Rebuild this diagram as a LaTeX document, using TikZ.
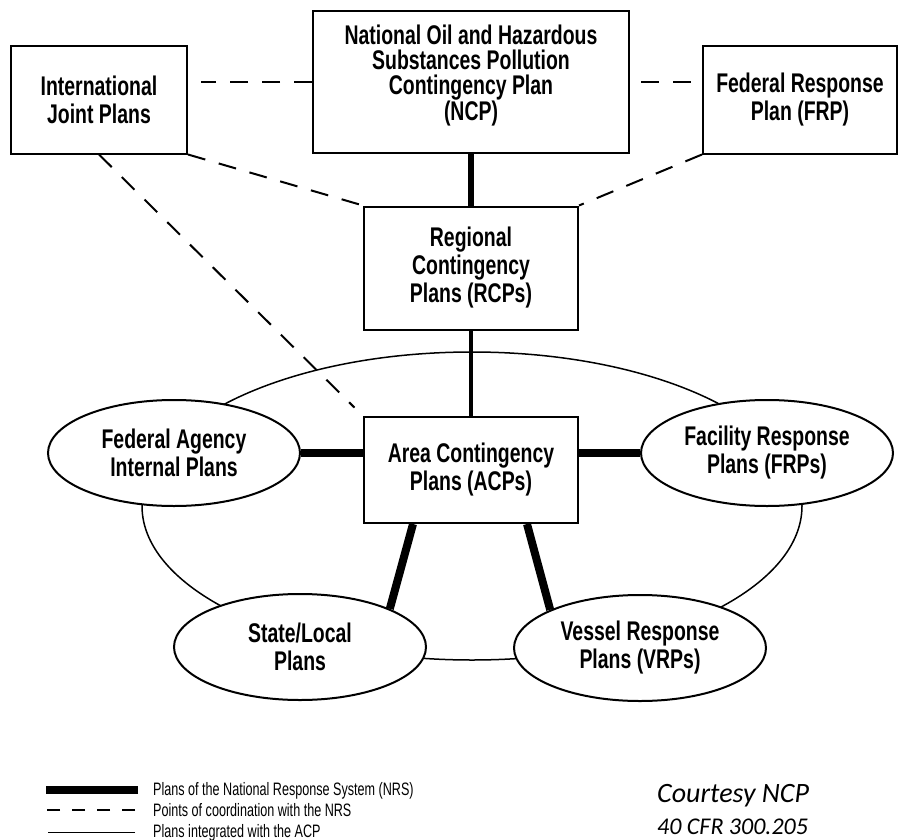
\documentclass[tikz,border=0pt]{standalone}
\usepackage{fontspec}
\newfontfamily\plotfont[FakeStretch=0.72]{Liberation Sans}
\newfontfamily\keyfont[FakeStretch=0.7]{Liberation Sans}
\newfontfamily\notefont{Carlito}
\usetikzlibrary{shapes.geometric}

\begin{document}
\begin{tikzpicture}[x=1pt,y=-1pt,
    plan/.style={draw,line width=2pt,fill=white,align=center,inner sep=0pt,font=\plotfont\fontsize{27}{28}\selectfont\bfseries},
    planbox/.style={plan,rectangle},
    planoval/.style={plan,ellipse,minimum width=252pt,minimum height=106pt},
    nrs/.style={line width=8pt},
    coord/.style={line width=2pt,dash pattern=on 18pt off 14pt},
    acpline/.style={line width=1.5pt},
    legend/.style={anchor=base west,inner sep=0pt,font=\keyfont\fontsize{18}{20}\selectfont}]
    \useasboundingbox (0,0) rectangle (899,840);

    % ring of plans tied to the ACP
    \draw[acpline] (472,506) ellipse [x radius=330,y radius=154];

    \node[planbox,minimum width=176pt,minimum height=107pt] (ijp) at (99,100) {International\\Joint Plans};
    \node[planbox,minimum width=316pt,minimum height=142pt,text depth=18pt,font=\plotfont\fontsize{27}{25}\selectfont\bfseries] (ncp) at (471,82) {National Oil and Hazardous\\Substances Pollution\\Contingency Plan\\(NCP)};
    \node[planbox,minimum width=194pt,minimum height=107pt] (frp) at (800,100) {Federal Response\\Plan (FRP)};
    \node[planbox,minimum width=214pt,minimum height=123pt] (rcp) at (471,268) {Regional\\Contingency\\Plans (RCPs)};
    \node[planbox,minimum width=214pt,minimum height=106pt] (acp) at (471,470) {Area Contingency\\Plans (ACPs)};

    \node[planoval] (fed) at (174,453) {Federal Agency\\Internal Plans};
    \node[planoval] (fac) at (767,453) {Facility Response\\Plans (FRPs)};
    \node[planoval] (sta) at (300,647) {State/Local\\Plans};
    \node[planoval] (ves) at (640,648) {Vessel Response\\Plans (VRPs)};

    % plans of the NRS
    \draw[line width=6pt] (ncp) -- (rcp);
    \draw[line width=4pt] (rcp) -- (acp);
    \draw[nrs] (fed.east) -- (fed.east -| acp.west);
    \draw[nrs] (fac.west) -- (fac.west -| acp.east);
    \draw[nrs] ([xshift=-58pt]acp.south) -- (sta.north east);
    \draw[nrs] ([xshift=56pt]acp.south) -- (ves.north west);

    % points of coordination
    \draw[coord,shorten >=13pt] (ncp.west) -- (ncp.west -| ijp.east);
    \draw[coord,shorten <=11pt] (ncp.east) -- (ncp.east -| frp.west);
    \draw[coord] (ijp.south east) -- (rcp.north west);
    \draw[coord] (frp.south west) -- (rcp.north east);
    \draw[coord,shorten >=12pt] (ijp.south) -- (acp.north west);

    % key
    \node[legend] (nrskey) at (153,795) {Plans of the National Response System (NRS)};
    \node[legend] (coordkey) at (153,816) {Points of coordination with the NRS};
    \node[legend] (acpkey) at (153,837) {Plans integrated with the ACP};
    \draw[nrs] ([xshift=-15pt]nrskey.west) -- ++(-92,0);
    \draw[line width=2pt,dash pattern=on 13pt off 12pt] ([xshift=-18pt]coordkey.west) -- ++(-89,0);
    \draw[acpline] ([xshift=-18pt]acpkey.west) -- ++(-87,0);

    \node[anchor=base west,inner sep=0pt,font=\notefont\itshape\fontsize{28}{30}\selectfont] (credit) at (657,802) {Courtesy NCP};
    \node[anchor=base west,inner sep=0pt,font=\notefont\itshape\fontsize{24}{26}\selectfont] (cfr) at (657,834) {40 CFR 300.205};
\end{tikzpicture}
\end{document}
